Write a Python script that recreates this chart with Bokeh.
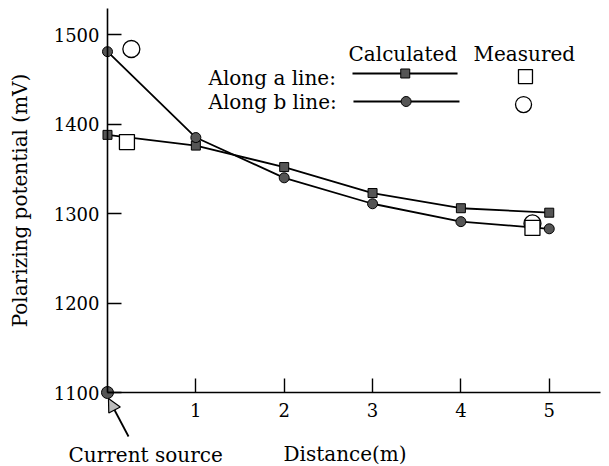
from bokeh.plotting import figure
from bokeh.models import Range1d, FixedTicker, Label, Arrow, NormalHead
from bokeh.embed import file_html
from bokeh.resources import INLINE

# data
dist = [0, 1, 2, 3, 4, 5]
calc_a = [1388, 1376, 1352, 1323, 1306, 1301]
calc_b = [1481, 1385, 1340, 1311, 1291, 1283]
meas_x = [0.22, 4.81]
meas_a = [1380, 1284]
meas_bx = [0.27, 4.81]
meas_b = [1484, 1289]
src_x = [0]
src_y = [1100]
x_ticks = [1, 2, 3, 4, 5]
y_ticks = [1100, 1200, 1300, 1400, 1500]

FONT = "DejaVu Serif"
FS = "20px"

p = figure(width=609, height=466, output_backend="svg", toolbar_location=None,
           x_range=Range1d(-1.2111, 5.6820), y_range=Range1d(1017.3, 1538.2),
           min_border_left=0, min_border_right=0, min_border_top=0, min_border_bottom=0)
p.outline_line_color = None
p.grid.visible = False
p.background_fill_color = "white"

for ax in (p.xaxis[0], p.yaxis[0]):
    ax.axis_line_color = "black"
    ax.axis_line_width = 1.6
    ax.major_tick_line_color = "black"
    ax.major_tick_line_width = 1.4
    ax.major_tick_in = 14
    ax.major_tick_out = 0
    ax.minor_tick_line_color = None
    ax.major_label_text_font = FONT
    ax.major_label_text_font_size = "18px"
    ax.major_label_text_color = "black"
    ax.axis_label_text_font = FONT
    ax.axis_label_text_font_size = FS
    ax.axis_label_text_font_style = "normal"
    ax.axis_label_text_color = "black"

p.xaxis.ticker = FixedTicker(ticks=x_ticks)
p.yaxis.ticker = FixedTicker(ticks=y_ticks)
p.xaxis.fixed_location = 1100
p.yaxis.fixed_location = 0
p.xaxis.bounds = (0, 5.58)
p.yaxis.bounds = (1100, 1529)
p.xaxis.major_label_standoff = 10
p.yaxis.major_label_standoff = 8
p.yaxis.axis_label = "Polarizing potential (mV)"
p.yaxis.axis_label_standoff = 19

# calculated lines
p.line(dist, calc_a, line_color="black", line_width=1.8)
p.line(dist, calc_b, line_color="black", line_width=1.8)
p.scatter(dist, calc_a, marker="square", size=9, fill_color="#555555", line_color="black", line_width=1)
p.scatter(dist, calc_b, marker="circle", size=10, fill_color="#555555", line_color="black", line_width=1)
p.scatter(src_x, src_y, marker="circle", size=12, fill_color="#555555", line_color="black", line_width=1)

# measured
p.scatter(meas_bx, meas_b, marker="circle", size=17, fill_color="white", line_color="black", line_width=1.3)
p.scatter(meas_x, meas_a, marker="square", size=15, fill_color="white", line_color="black", line_width=1.3)

# legend (manual)
def txt(x, y, s):
    p.add_layout(Label(x=x, y=y, text=s, text_font=FONT, text_font_size=FS,
                       text_color="black", text_baseline="alphabetic"))

txt(2.728, 1478.9, "Calculated")
txt(4.143, 1478.9, "Measured")
txt(1.143, 1452.1, "Along a line:")
txt(1.143, 1424.2, "Along b line:")
p.line([2.773, 3.962], [1456.6, 1456.6], line_color="black", line_width=1.8)
p.line([2.784, 3.984], [1425.3, 1425.3], line_color="black", line_width=1.8)
p.scatter([3.37], [1456.6], marker="square", size=9, fill_color="#555555", line_color="black")
p.scatter([3.38], [1425.3], marker="circle", size=10, fill_color="#555555", line_color="black")
p.scatter([4.731], [1453.2], marker="square", size=14, fill_color="white", line_color="black", line_width=1.3)
p.scatter([4.709], [1421.9], marker="circle", size=16, fill_color="white", line_color="black", line_width=1.3)

# annotations
txt(-0.441, 1029.6, "Current source")
txt(1.992, 1031.8, "Distance(m)")
p.add_layout(Arrow(end=NormalHead(size=13, line_color="black", line_width=1.2, fill_color="#bbbbbb"),
                   x_start=0.238, y_start=1050.8, x_end=0.011, y_end=1093.3,
                   line_color="black", line_width=1.8))

open("out.html", "w").write(file_html(p, INLINE))
